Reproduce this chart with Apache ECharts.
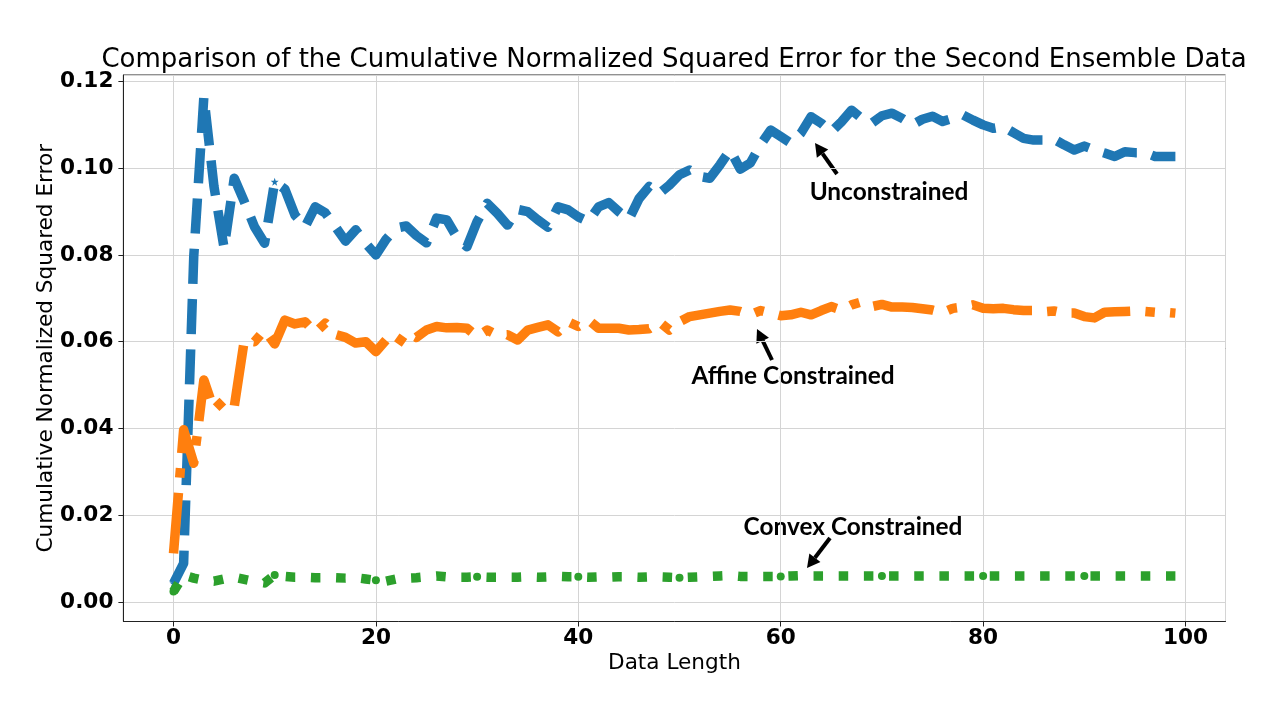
<!DOCTYPE html>
<html><head><meta charset="utf-8">
<script src="https://cdn.jsdelivr.net/npm/echarts@6/dist/echarts.min.js"></script>
<style>html,body{margin:0;padding:0;background:#fff}#c{width:1280px;height:720px}</style>
</head><body><div id="c"></div>
<script>
// ---- data ----
const unconstrained = [0.0043,0.0089,0.0796,0.1165,0.0958,0.0816,0.0977,0.0923,0.0865,0.0827,
 0.0969,0.0952,0.0892,0.0865,0.0911,0.0897,0.0865,0.0832,0.0858,0.0827,
 0.0800,0.0836,0.0862,0.0867,0.0845,0.0828,0.0885,0.0881,0.0841,0.0819,
 0.0877,0.0919,0.0896,0.0869,0.0905,0.0900,0.0881,0.0864,0.0911,0.0904,
 0.0888,0.0877,0.0911,0.0921,0.0900,0.0882,0.0930,0.0958,0.0942,0.0961,
 0.0985,0.0996,0.0981,0.0977,0.1008,0.1042,0.0998,0.1012,0.1054,0.1088,
 0.1073,0.1058,0.1081,0.1119,0.1104,0.1084,0.1107,0.1134,0.1115,0.1104,
 0.1121,0.1127,0.1115,0.1100,0.1113,0.1120,0.1108,0.1115,0.1123,0.1111,
 0.1100,0.1092,0.1096,0.1082,0.1069,0.1065,0.1065,0.1067,0.1054,0.1042,
 0.1051,0.1042,0.1035,0.1027,0.1038,0.1036,0.1036,0.1027,0.1027,0.1027];
const affine = [0.0112,0.0397,0.0320,0.0512,0.0443,0.0466,0.0450,0.0604,0.0600,0.0627,
 0.0595,0.0650,0.0641,0.0646,0.0621,0.0643,0.0617,0.0610,0.0597,0.0600,
 0.0577,0.0604,0.0589,0.0622,0.0610,0.0627,0.0635,0.0632,0.0633,0.0631,
 0.0612,0.0627,0.0615,0.0616,0.0604,0.0627,0.0633,0.0639,0.0623,0.0646,
 0.0635,0.0650,0.0631,0.0631,0.0631,0.0627,0.0628,0.0630,0.0646,0.0627,
 0.0646,0.0658,0.0662,0.0666,0.0670,0.0673,0.0670,0.0662,0.0672,0.0666,
 0.0660,0.0662,0.0668,0.0662,0.0672,0.0681,0.0673,0.0685,0.0692,0.0681,
 0.0686,0.0680,0.0680,0.0679,0.0676,0.0673,0.0667,0.0677,0.0680,0.0685,
 0.0677,0.0676,0.0677,0.0674,0.0672,0.0672,0.0669,0.0671,0.0666,0.0666,
 0.0658,0.0655,0.0668,0.0669,0.0670,0.0671,0.0670,0.0668,0.0668,0.0666];
const convex = [0.0024,0.0062,0.0055,0.0050,0.0048,0.0053,0.0057,0.0052,0.0047,0.0044,
 0.0062,0.0059,0.0057,0.0057,0.0056,0.0056,0.0056,0.0055,0.0056,0.0053,
 0.0050,0.0048,0.0053,0.0055,0.0056,0.0058,0.0060,0.0058,0.0057,0.0057,
 0.0058,0.0057,0.0057,0.0057,0.0057,0.0058,0.0057,0.0058,0.0059,0.0058,
 0.0058,0.0057,0.0058,0.0057,0.0058,0.0058,0.0057,0.0058,0.0058,0.0057,
 0.0056,0.0057,0.0058,0.0059,0.0060,0.0061,0.0059,0.0059,0.0059,0.0059,
 0.0059,0.0060,0.0061,0.0060,0.0060,0.0060,0.0060,0.0060,0.0060,0.0060,
 0.0060,0.0060,0.0060,0.0060,0.0060,0.0060,0.0060,0.0060,0.0060,0.0060,
 0.0060,0.0060,0.0060,0.0060,0.0060,0.0060,0.0060,0.0060,0.0060,0.0060,
 0.0060,0.0060,0.0060,0.0060,0.0060,0.0060,0.0060,0.0060,0.0060,0.0060];
const seriesNames = ['Unconstrained', 'Affine Constrained', 'Convex Constrained'];
const xTickLabels = ['0','20','40','60','80','100'];
const titleText = 'Comparison of the Cumulative Normalized Squared Error for the Second Ensemble Data';
const markEvery = 10;

// ---- styles ----
const BLUE = '#1f77b4', ORANGE = '#ff7f0e', GREEN = '#2ca02c';
const LW = 9.5;
const FS = 21.6;
const STAR = 'path://M0,-10L2.35,-3.24L9.51,-3.09L3.8,1.24L5.88,8.09L0,4L-5.88,8.09L-3.8,1.24L-9.51,-3.09L-2.35,-3.24Z';

function build(arr, symbol, size) {
  return arr.map((v, i) => (symbol && i % markEvery === 0)
    ? { value: [i, v], symbol: symbol, symbolSize: size }
    : { value: [i, v], symbol: 'none' });
}

function arrow(x1, y1, x2, y2) {
  const dx = x2 - x1, dy = y2 - y1, L = Math.hypot(dx, dy), ux = dx / L, uy = dy / L;
  const hl = 13, hw = 7;
  const bx = x2 - ux * hl, by = y2 - uy * hl;
  return [
    { type: 'line', shape: { x1: x1, y1: y1, x2: bx, y2: by }, style: { stroke: '#000', lineWidth: 4 } },
    { type: 'polygon', shape: { points: [[x2, y2], [bx - uy * hw, by + ux * hw], [bx + uy * hw, by - ux * hw]] }, style: { fill: '#000' } }
  ];
}
const annoFont = 'bold 24.4px Lato';
function label(text, x, y) {
  return { type: 'text', x: x, y: y, style: { text: text, font: annoFont, fill: '#000', textAlign: 'center', textVerticalAlign: 'middle' } };
}

const chart = echarts.init(document.getElementById('c'), null, { renderer: 'canvas' });
const lineCommon = { type: 'line', showSymbol: true, showAllSymbol: true, animation: false, silent: true,
  emphasis: { disabled: true } };

chart.setOption({
  animation: false,
  backgroundColor: '#fff',
  grid: { left: 123.4, right: 54.5, top: 75, bottom: 98.5, show: true, borderColor: '#222', borderWidth: 1, containLabel: false },
  xAxis: {
    type: 'value', min: -4.95, max: 103.95, splitNumber: 5,
    name: 'Data Length', nameLocation: 'middle', nameGap: 31, nameMoveOverlap: false,
    nameTextStyle: { fontFamily: 'DejaVu Sans', fontSize: FS, color: '#000' },
    axisLine: { show: true, onZero: false, lineStyle: { color: '#222', width: 1 } },
    axisTick: { show: true, length: 5, lineStyle: { color: '#222' } },
    axisLabel: { fontFamily: 'DejaVu Sans', fontWeight: 'bold', fontSize: FS, color: '#000', margin: 6,
      showMinLabel: false, showMaxLabel: false,
      formatter: v => { const k = xTickLabels.indexOf(String(Math.round(v))); return (Math.abs(v - Math.round(v)) < 1e-6 && k >= 0) ? xTickLabels[k] : ''; } },
    splitLine: { show: true, lineStyle: { color: '#d4d4d4', width: 1 } }
  },
  yAxis: {
    type: 'value', min: -0.0045, max: 0.1215, splitNumber: 6,
    name: 'Cumulative Normalized Squared Error', nameLocation: 'middle', nameGap: 66, nameMoveOverlap: false,
    nameTextStyle: { fontFamily: 'DejaVu Sans', fontSize: FS, color: '#000' },
    axisLine: { show: true, onZero: false, lineStyle: { color: '#222', width: 1 } },
    axisTick: { show: true, length: 5, lineStyle: { color: '#222' } },
    axisLabel: { fontFamily: 'DejaVu Sans', fontWeight: 'bold', fontSize: FS, color: '#000', margin: 10,
      showMinLabel: false, showMaxLabel: false,
      formatter: v => v.toFixed(2) },
    splitLine: { show: true, lineStyle: { color: '#d4d4d4', width: 1 } }
  },
  series: [
    Object.assign({}, lineCommon, { name: seriesNames[0], data: build(unconstrained, STAR, 8), z: 2,
      lineStyle: { color: BLUE, width: LW, type: [3.7 * LW, 1.6 * LW], cap: 'butt', join: 'round' },
      itemStyle: { color: BLUE, borderWidth: 0 } }),
    Object.assign({}, lineCommon, { name: seriesNames[1], data: build(affine, null, 0), z: 3,
      lineStyle: { color: ORANGE, width: LW, type: [6.4 * LW, 1.6 * LW, 1 * LW, 1.6 * LW], cap: 'butt', join: 'round' },
      itemStyle: { color: ORANGE, borderWidth: 0 } }),
    Object.assign({}, lineCommon, { name: seriesNames[2], data: build(convex, 'circle', 8), z: 4,
      lineStyle: { color: GREEN, width: LW, type: [1 * LW, 1.65 * LW], cap: 'butt', join: 'round' },
      itemStyle: { color: GREEN, borderWidth: 0 } })
  ],
  graphic: [
    { type: 'text', x: 674, y: 60, style: { text: titleText, font: '26px "DejaVu Sans"', fill: '#000', textAlign: 'center', textVerticalAlign: 'middle' } },
    label(seriesNames[0], 889, 192),
    label(seriesNames[1], 793, 376),
    label(seriesNames[2], 853, 527)
  ].concat(arrow(837, 174, 815, 143), arrow(772, 360, 757, 329), arrow(830, 538, 807, 568))
});
</script>
</body></html>
